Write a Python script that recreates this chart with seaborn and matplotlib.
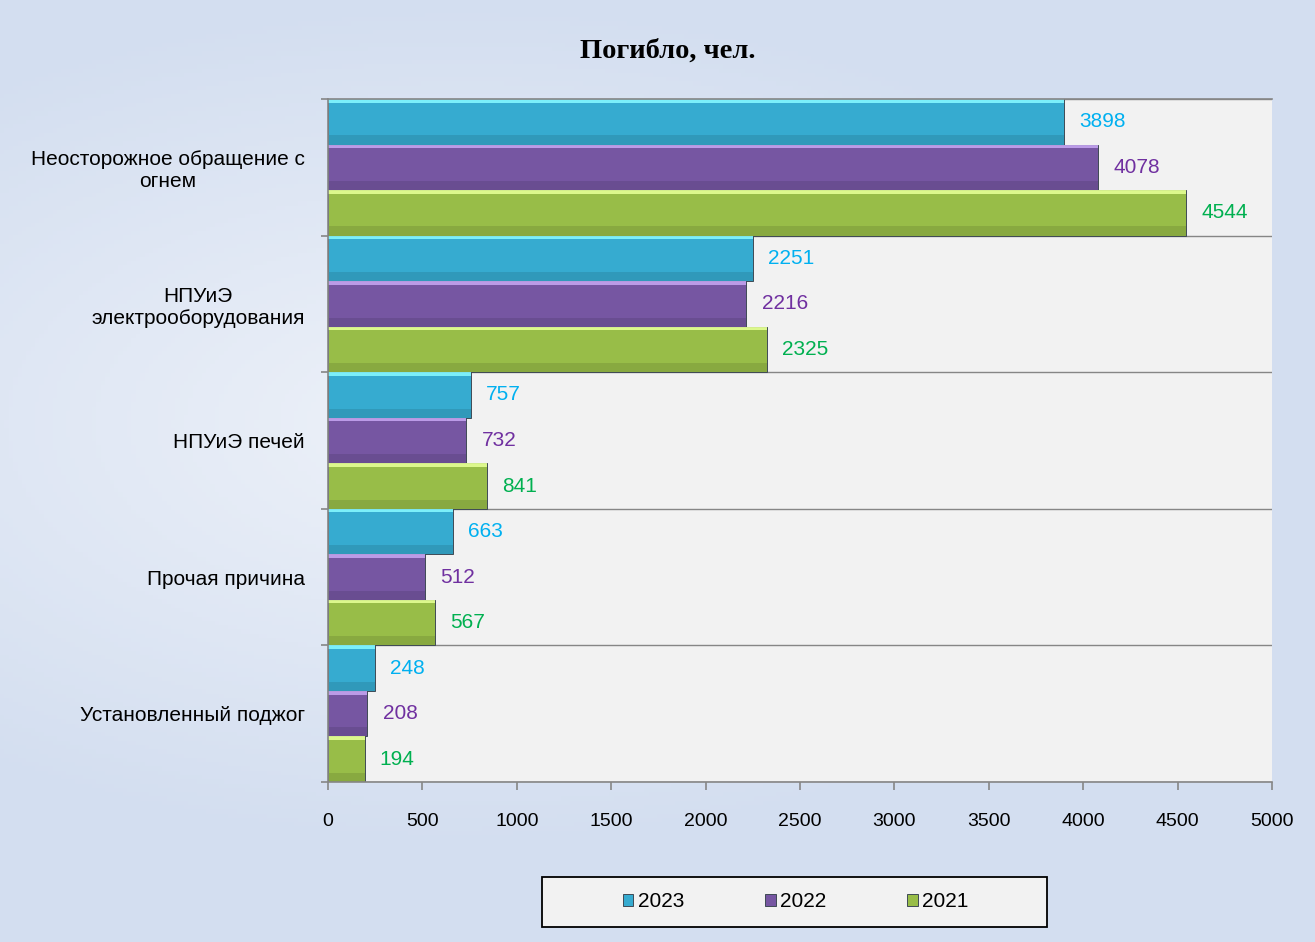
import numpy as np
import pandas as pd
import matplotlib.pyplot as plt
from matplotlib.patches import Rectangle
from matplotlib.colors import to_rgb
import seaborn as sns


# =========================================================
# DATA
# =========================================================

causes = [
    'Неосторожное обращение с\nогнем',
    'НПУиЭ\nэлектрооборудования',
    'НПУиЭ печей',
    'Прочая причина',
    'Установленный поджог',
]

years = ['2023', '2022', '2021']

deaths_2023 = [3898, 2251, 757, 663, 248]
deaths_2022 = [4078, 2216, 732, 512, 208]
deaths_2021 = [4544, 2325, 841, 567, 194]

x_ticks = [0, 500, 1000, 1500, 2000, 2500, 3000, 3500, 4000, 4500, 5000]

bar_colors = ['#36abd0', '#7656a2', '#98bd48']
label_colors = ['#00b0f0', '#7030a0', '#00b050']


# =========================================================
# BUILD TABLE
# =========================================================

df = pd.DataFrame({
    'cause': causes * 3,
    'year': [y for y in years for _ in causes],
    'value': deaths_2023 + deaths_2022 + deaths_2021,
})


# =========================================================
# PLOT
# =========================================================

sns.set_style('white')
plt.rcParams['font.family'] = ['Liberation Sans', 'DejaVu Sans']
plt.rcParams['text.color'] = 'black'
plt.rcParams['xtick.labelcolor'] = 'black'
plt.rcParams['ytick.labelcolor'] = 'black'

fig = plt.figure(figsize=(13.15, 9.42), dpi=100)

# soft background gradient
bg = fig.add_axes([0, 0, 1, 1], zorder=-10)
gx, gy = np.meshgrid(np.linspace(-1, 1, 300), np.linspace(-1, 1, 220))
glow = np.clip(1 - np.sqrt(((gx + 0.3) * 0.8) ** 2 + ((gy + 0.1) * 1.1) ** 2), 0, 1)
bg.imshow(glow, cmap=sns.blend_palette(['#d3def0', '#eef2f9'], as_cmap=True),
          aspect='auto', extent=[0, 1, 0, 1], vmin=0, vmax=1)
bg.axis('off')

ax = fig.add_axes([0.2494, 0.1699, 0.7179, 0.725])
ax.set_facecolor('#f2f2f2')

sns.barplot(
    data=df,
    y='cause',
    x='value',
    hue='year',
    hue_order=years,
    palette=bar_colors,
    saturation=1,
    orient='h',
    width=1.0,
    edgecolor='#3f4a55',
    linewidth=0.7,
    ax=ax,
)

# bevel look: light strip on top, darker strip at the bottom of each bar
for container in ax.containers:
    for patch in container:
        x0, y0 = patch.get_x(), patch.get_y()
        w, h = patch.get_width(), patch.get_height()
        base = np.array(to_rgb(patch.get_facecolor()))
        light = np.clip(base + 0.3, 0, 1)
        dark = base * 0.8
        ax.add_patch(Rectangle((x0, y0), w, h * 0.08, facecolor=light,
                               edgecolor='none', alpha=0.9,
                               zorder=patch.get_zorder() + 0.1))
        ax.add_patch(Rectangle((x0, y0 + h * 0.8), w, h * 0.2, facecolor=dark,
                               edgecolor='none', alpha=0.5,
                               zorder=patch.get_zorder() + 0.1))

# data labels
for container, color in zip(ax.containers, label_colors):
    ax.bar_label(container, padding=11, color=color, fontsize=15)

ax.set_xlim(0, 5000)
ax.set_ylim(len(causes) - 0.5, -0.5)
ax.set_xticks(x_ticks)
ax.tick_params(axis='x', bottom=True, labelsize=14, length=6, width=1.2,
               color='#868686', direction='out', pad=16)
ax.tick_params(axis='y', which='major', labelsize=15, length=0, pad=16.5)

ax.set_yticks(np.arange(-0.5, len(causes)), minor=True)
ax.tick_params(axis='y', which='minor', left=True, length=5, width=1.2,
               color='#868686', direction='out')
ax.grid(axis='y', which='minor', color='#868686', linewidth=1)
ax.set_axisbelow(True)

for label in ax.get_yticklabels():
    label.set_multialignment('center')

for side in ['left', 'bottom', 'top']:
    ax.spines[side].set_color('#868686')
    ax.spines[side].set_linewidth(1.2)
ax.spines['right'].set_visible(False)

ax.set_xlabel('')
ax.set_ylabel('')

fig.text(0.508, 0.946, 'Погибло, чел.', ha='center', va='center',
         fontsize=20.5, fontweight='bold', family='Liberation Serif')

# legend box
fig.patches.append(Rectangle((542 / 1315, 1 - 927 / 942), 505 / 1315, 50 / 942,
                             transform=fig.transFigure, facecolor='#f2f2f2',
                             edgecolor='black', linewidth=1.3, zorder=1))

handles, labels = ax.get_legend_handles_labels()
ax.legend_.remove()
fig.legend(
    handles, labels,
    loc='center',
    bbox_to_anchor=(0.605, 0.0425),
    ncol=3,
    frameon=False,
    fontsize=15,
    handlelength=0.5,
    handleheight=0.5,
    handletextpad=0.2,
    columnspacing=3.9,
)

fig.savefig('out.png', dpi=100)
